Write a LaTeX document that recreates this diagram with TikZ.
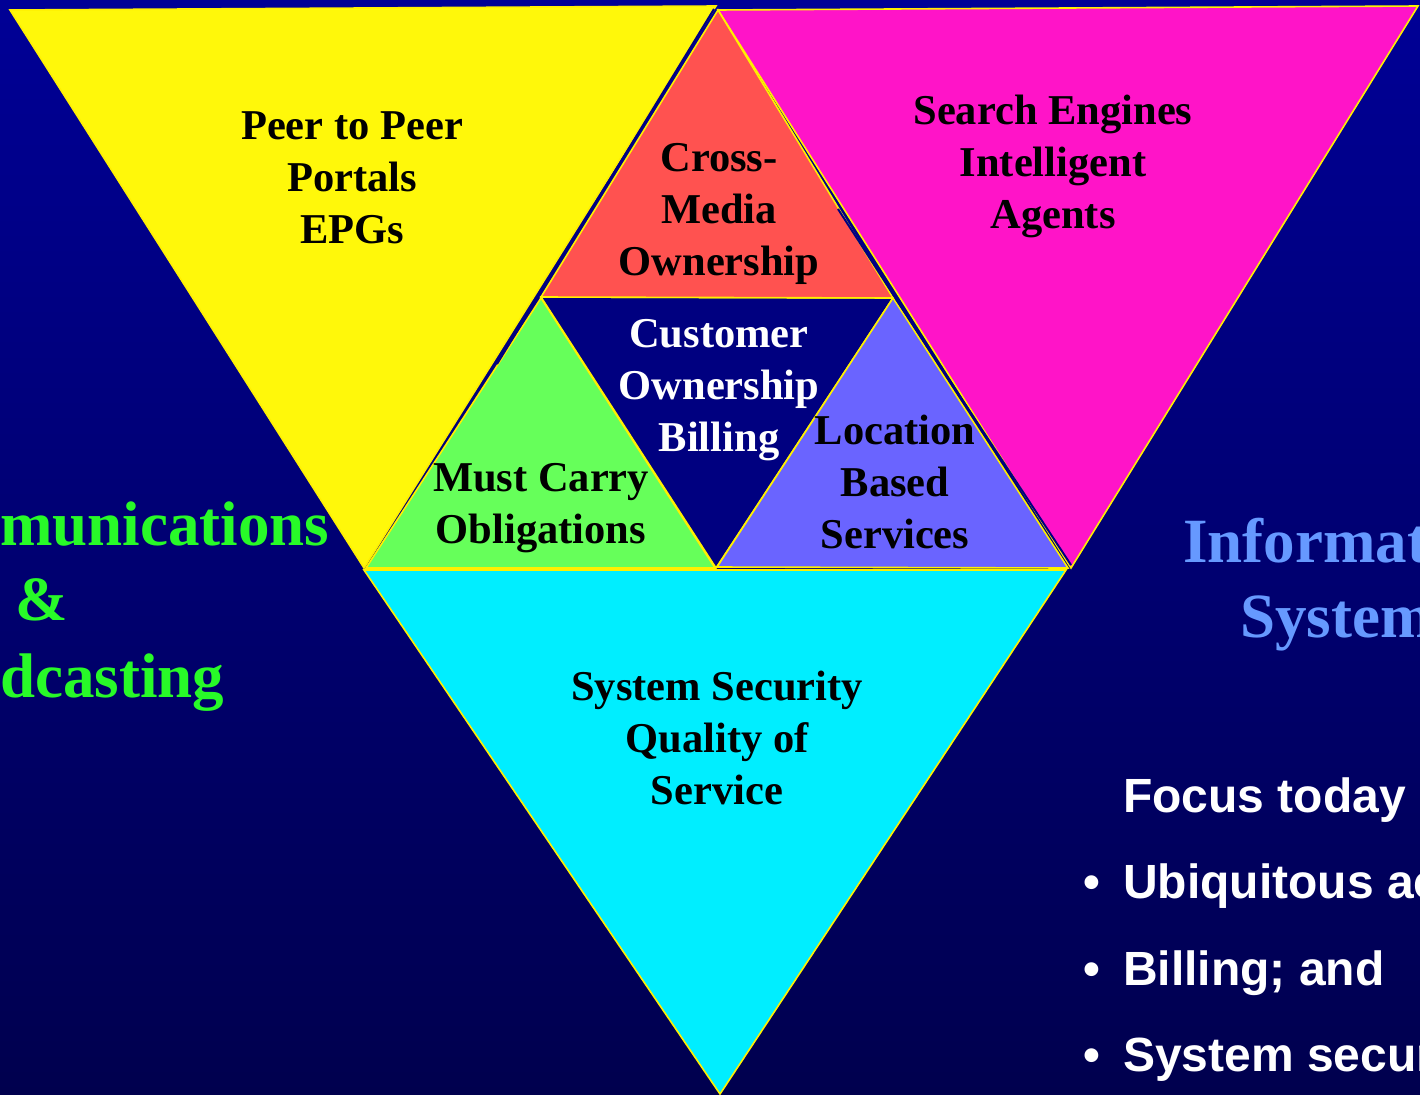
\documentclass[tikz,border=0pt]{standalone}
\usepackage{fontspec}
\setmainfont{Liberation Serif}
\newfontfamily\arialfont{Liberation Sans}
\definecolor{bgtop}{RGB}{0,0,150}
\definecolor{bgbot}{RGB}{0,0,78}
\definecolor{tyellow}{RGB}{255,248,10}
\definecolor{tmagenta}{RGB}{255,20,200}
\definecolor{tred}{RGB}{255,82,80}
\definecolor{tgreen}{RGB}{102,255,90}
\definecolor{tpurple}{RGB}{106,100,255}
\definecolor{tcyan}{RGB}{0,238,255}
\definecolor{tnavy}{RGB}{0,0,128}
\definecolor{edgeyellow}{RGB}{255,240,0}
\definecolor{sidegreen}{RGB}{40,250,40}
\definecolor{sideblue}{RGB}{102,153,255}
\tikzset{
  tri/.style={draw=edgeyellow, line width=1.6pt, line join=miter},
  navyline/.style={draw=tnavy, line width=2pt},
  lbl/.style={align=center, inner sep=0pt, font=\fontsize{42.5}{52}\selectfont\bfseries},
  side/.style={inner sep=0pt, font=\fontsize{63}{75}\selectfont\bfseries},
  bul/.style={inner sep=0pt, anchor=base west, text=white, font=\arialfont\fontsize{48}{58}\selectfont\bfseries}
}
\begin{document}
\begin{tikzpicture}[x=1pt,y=-1pt]
\useasboundingbox (0,0) rectangle (1420,1094);
\shade[top color=bgtop, bottom color=bgbot] (0,0) rectangle (1420,1094);
% big triangles
\path[tri, fill=tyellow] (10,10) -- (716,6) -- (364,568) -- cycle;
\path[tri, fill=tmagenta] (718,10) -- (1418,6) -- (1071,568) -- cycle;
\path[tri, fill=tcyan] (364,570) -- (1066,570) -- (720,1094) -- cycle;
% inner triangles
\path[tri, fill=tnavy] (541,297) -- (893,298) -- (716,568) -- cycle;
\path[tri, fill=tred] (718,10) -- (541,297) -- (893,298) -- cycle;
\path[tri, fill=tgreen] (541,298) -- (366,568) -- (715,568) -- cycle;
\path[tri, fill=tpurple] (893,298) -- (717,567) -- (1068,568) -- cycle;
% navy seams
\draw[navyline] (714,9) -- (538,297) -- (497,364);
\draw[navyline] (838,209) -- (896,299) -- (1071,565);
% labels
\node[lbl] (p2p) at (352,178) {Peer to Peer\\Portals\\EPGs};
\node[lbl] (cross) at (719,214) {Cross-\\Media\\Ownership};
\node[lbl] (search) at (1053,166) {Search Engines\\Intelligent\\Agents};
\node[lbl, text=white] (cust) at (719,390) {Customer\\Ownership\\Billing};
\node[lbl] (must) at (541,508) {Must Carry\\Obligations};
\node[lbl] (loc) at (895,482) {Location\\Based\\Services};
\node[lbl] (sec) at (717,738) {System Security\\Quality of\\Service};
% side texts
\node[side, text=sidegreen, anchor=base west] (tele) at (0,545) {munications};
\node[side, text=sidegreen, anchor=base] (amp) at (42,620) {\&};
\node[side, text=sidegreen, anchor=base west] (broad) at (0,697) {dcasting};
\node[side, text=sideblue, anchor=base west] (info) at (1183,562) {Informat};
\node[side, text=sideblue, anchor=base west] (sys) at (1240,637) {System};
% bullets
\node[bul] (focus) at (1123,812) {Focus today};
\node[bul] (b1) at (1123,898) {Ubiquitous ac};
\node[bul] (b2) at (1123,985) {Billing; and};
\node[bul] (b3) at (1123,1071) {System secur};
\node[bul, anchor=base] (d1) at (1092,898) {•};
\node[bul, anchor=base] (d2) at (1092,985) {•};
\node[bul, anchor=base] (d3) at (1092,1071) {•};
\end{tikzpicture}
\end{document}
